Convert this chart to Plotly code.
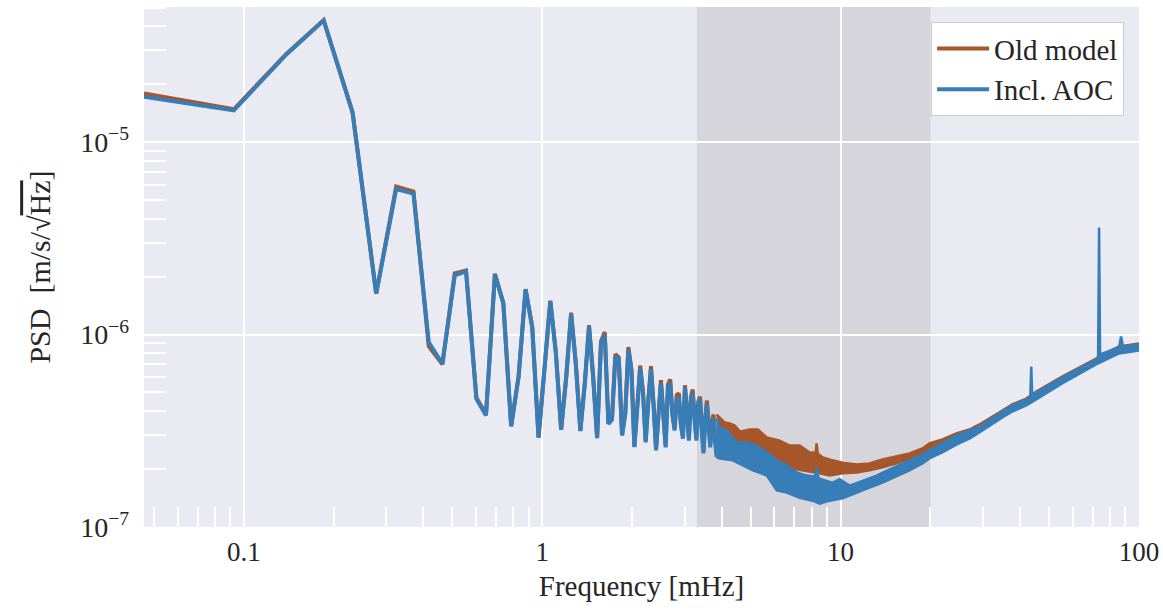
import math
import plotly.graph_objects as go

# ---------------- data ----------------
# resolved low-frequency bins [mHz]
freq_bins = [0.0463, 0.0926, 0.1389, 0.1852, 0.2315, 0.2778, 0.3241, 0.3704, 0.4167, 0.4630,
             0.5093, 0.5556, 0.6019, 0.6481, 0.6944, 0.7407, 0.7870, 0.8333, 0.8796, 0.9259,
             0.9722, 1.0185, 1.0648, 1.1111, 1.1574, 1.2037, 1.2500, 1.2963, 1.3426, 1.3889,
             1.4352, 1.4815, 1.5278, 1.5741, 1.6204, 1.6667, 1.7130, 1.7593, 1.8056, 1.8519,
             1.8981, 1.9444, 1.9907, 2.0370, 2.0833, 2.1296, 2.1759, 2.2222, 2.2685, 2.3148,
             2.3611, 2.4074, 2.4537, 2.5000, 2.5463, 2.5926, 2.6389, 2.6852, 2.7315, 2.7778,
             2.8241, 2.8704, 2.9167, 2.9630, 3.0093, 3.0556, 3.1019, 3.1481, 3.1944, 3.2407,
             3.2870, 3.3333, 3.3796, 3.4259, 3.4722, 3.5185, 3.5648, 3.6111, 3.6574, 3.7037,
             3.7500, 3.7963, 3.8426]

old_low = [1.79e-5, 1.48e-5, 2.87e-5, 4.30e-5, 1.43e-5, 1.63e-6, 5.87e-6, 5.53e-6, 8.7e-7, 7.0e-7,
           2.08e-6, 2.15e-6, 4.7e-7, 3.85e-7, 2.07e-6, 1.46e-6, 3.35e-7, 6.05e-7, 1.72e-6, 1.10e-6,
           2.93e-7, 6.5e-7, 1.50e-6, 8.1e-7, 3.22e-7, 6.0e-7, 1.30e-6, 7.1e-7, 3.17e-7, 5.6e-7,
           1.12e-6, 6.1e-7, 2.91e-7, 9.2e-7, 1.03e-6, 3.46e-7, 3.65e-7, 7.9e-7, 7.6e-7, 3.0e-7,
           3.9e-7, 8.6e-7, 6.6e-7, 2.62e-7, 4.6e-7, 6.9e-7, 5.1e-7, 2.8e-7, 4.6e-7, 6.85e-7,
           4.4e-7, 2.55e-7, 3.9e-7, 5.8e-7, 3.9e-7, 2.65e-7, 5.5e-7, 5.85e-7, 3.9e-7, 3.25e-7,
           4.85e-7, 4.94e-7, 3.45e-7, 2.95e-7, 5.45e-7, 3.7e-7, 2.9e-7, 4.7e-7, 5.18e-7, 3.7e-7,
           2.9e-7, 4.45e-7, 4.76e-7, 3.3e-7, 2.5e-7, 3.7e-7, 4.54e-7, 3.5e-7, 2.7e-7, 3.5e-7,
           3.84e-7, 2.9e-7, 2.4e-7]

aoc_low = [1.72e-5, 1.46e-5, 2.85e-5, 4.28e-5, 1.42e-5, 1.63e-6, 5.70e-6, 5.40e-6, 9.1e-7, 7.05e-7,
           2.03e-6, 2.13e-6, 4.63e-7, 3.80e-7, 2.05e-6, 1.45e-6, 3.33e-7, 6.00e-7, 1.71e-6, 1.09e-6,
           2.91e-7, 6.5e-7, 1.49e-6, 8.0e-7, 3.20e-7, 6.0e-7, 1.28e-6, 7.0e-7, 3.15e-7, 5.5e-7,
           1.10e-6, 6.0e-7, 2.89e-7, 9.0e-7, 1.0e-6, 3.43e-7, 3.61e-7, 7.68e-7, 7.48e-7, 2.99e-7,
           3.87e-7, 8.33e-7, 6.50e-7, 2.60e-7, 4.5e-7, 6.66e-7, 5.0e-7, 2.75e-7, 4.5e-7, 6.58e-7,
           4.3e-7, 2.50e-7, 3.8e-7, 5.57e-7, 3.8e-7, 2.59e-7, 5.31e-7, 5.63e-7, 3.8e-7, 3.17e-7,
           4.65e-7, 4.65e-7, 3.37e-7, 2.88e-7, 5.31e-7, 3.58e-7, 2.81e-7, 4.54e-7, 4.99e-7, 3.58e-7,
           2.81e-7, 4.28e-7, 4.65e-7, 3.17e-7, 2.41e-7, 3.58e-7, 4.39e-7, 3.37e-7, 2.59e-7, 3.37e-7,
           3.67e-7, 2.8e-7, 2.30e-7]

# noisy high-frequency part: upper / lower envelope of the dense spectrum
old_up_f = [3.8426, 4.09, 4.25, 4.42, 4.60, 4.96, 5.28, 5.66, 6.25, 6.75, 7.29, 7.88, 8.25, 8.31, 8.38,
            8.71, 9.40, 10.15, 11.31, 12.50, 13.82, 15.39, 17.02, 18.81, 19.85, 21.93, 24.43, 27.01,
            29.17, 34.83, 37.61, 41.90, 45.25, 55.26, 71.81, 75.21, 85.74, 100.0]
old_up_v = [3.84e-7, 3.49e-7, 3.45e-7, 3.37e-7, 3.13e-7, 3.21e-7, 3.21e-7, 2.92e-7, 2.81e-7, 2.65e-7,
            2.65e-7, 2.44e-7, 2.44e-7, 2.72e-7, 2.41e-7, 2.30e-7, 2.22e-7, 2.16e-7, 2.11e-7, 2.14e-7,
            2.24e-7, 2.32e-7, 2.41e-7, 2.56e-7, 2.72e-7, 2.85e-7, 3.06e-7, 3.21e-7, 3.41e-7, 4.03e-7,
            4.33e-7, 4.65e-7, 5.06e-7, 6.05e-7, 7.50e-7, 7.87e-7, 8.66e-7, 8.98e-7]
old_lo_f = [3.8426, 4.60, 5.36, 6.25, 7.29, 8.51, 9.19, 10.15, 11.31, 12.50, 13.82, 15.39, 17.02,
            18.81, 19.85, 21.93, 24.43, 27.01, 29.17, 34.83, 41.90, 55.26, 71.81, 85.74, 100.0]
old_lo_v = [2.35e-7, 2.35e-7, 2.16e-7, 2.06e-7, 1.97e-7, 1.90e-7, 1.85e-7, 1.90e-7, 1.92e-7, 1.97e-7,
            2.04e-7, 2.14e-7, 2.27e-7, 2.41e-7, 2.50e-7, 2.65e-7, 2.88e-7, 3.06e-7, 3.17e-7, 3.80e-7,
            4.38e-7, 5.70e-7, 7.07e-7, 8.16e-7, 8.36e-7]

aoc_up_f = [3.8426, 3.94, 4.16, 4.49, 4.85, 5.24, 5.66, 6.11, 6.60, 7.13, 7.70, 8.19, 8.31, 8.44, 9.40,
            9.92, 10.72, 11.85, 13.20, 14.59, 16.12, 17.96, 19.85, 21.93, 24.43, 27.01, 29.17, 34.83,
            37.61, 41.90, 43.21, 43.54, 43.87, 45.25, 55.26, 71.81, 72.93, 73.49, 74.06, 85.74, 87.07,
            88.43, 100.0]
aoc_up_v = [3.66e-7, 3.29e-7, 3.17e-7, 2.75e-7, 2.75e-7, 2.65e-7, 2.44e-7, 2.22e-7, 2.09e-7, 1.92e-7,
            1.85e-7, 1.83e-7, 2.04e-7, 1.79e-7, 1.70e-7, 1.77e-7, 1.64e-7, 1.74e-7, 1.85e-7, 1.99e-7,
            2.14e-7, 2.30e-7, 2.50e-7, 2.72e-7, 2.99e-7, 3.17e-7, 3.33e-7, 3.98e-7, 4.28e-7, 4.60e-7,
            4.65e-7, 6.82e-7, 4.76e-7, 5.00e-7, 5.98e-7, 7.41e-7, 7.50e-7, 3.60e-6, 7.87e-7, 8.56e-7,
            9.76e-7, 8.66e-7, 8.87e-7]
aoc_lo_f = [3.8426, 3.94, 4.35, 4.70, 5.08, 5.66, 6.11, 6.60, 7.29, 8.06, 8.51, 9.19, 10.15, 11.31,
            12.50, 13.82, 15.39, 17.02, 18.81, 19.85, 21.93, 24.43, 27.01, 29.17, 34.83, 37.61, 41.90,
            45.25, 55.26, 71.81, 85.74, 100.0]
aoc_lo_v = [2.30e-7, 2.27e-7, 2.22e-7, 2.09e-7, 1.97e-7, 1.85e-7, 1.55e-7, 1.51e-7, 1.42e-7, 1.37e-7,
            1.32e-7, 1.37e-7, 1.41e-7, 1.51e-7, 1.60e-7, 1.70e-7, 1.83e-7, 1.97e-7, 2.14e-7, 2.27e-7,
            2.44e-7, 2.68e-7, 2.88e-7, 3.10e-7, 3.71e-7, 3.98e-7, 4.28e-7, 4.60e-7, 5.57e-7, 6.99e-7,
            7.97e-7, 8.26e-7]

band_range = [3.3, 20.0]  # shaded frequency band [mHz]
x_ticks = [0.1, 1, 10, 100]
x_tick_text = ["0.1", "1", "10", "100"]
y_ticks = [1e-7, 1e-6, 1e-5]
y_tick_text = ["10<sup>−7</sup>", "10<sup>−6</sup>", "10<sup>−5</sup>"]

C_OLD = "#a65628"
C_AOC = "#377eb8"
FONT = "Liberation Serif, Times New Roman, serif"
TXT = "#262626"

fig = go.Figure()


def add_series(name, color, f_low, v_low, uf, uv, lf, lv):
    fig.add_trace(go.Scatter(x=f_low, y=v_low, mode="lines", name=name, legendgroup=name,
                             line=dict(color=color, width=4)))
    fig.add_trace(go.Scatter(x=uf + lf[::-1], y=uv + lv[::-1], mode="lines", fill="toself",
                             fillcolor=color, line=dict(color=color, width=2.5),
                             legendgroup=name, showlegend=False, hoverinfo="skip"))


add_series("Old model", C_OLD, freq_bins, old_low, old_up_f, old_up_v, old_lo_f, old_lo_v)
add_series("Incl. AOC", C_AOC, freq_bins, aoc_low, aoc_up_f, aoc_up_v, aoc_lo_f, aoc_lo_v)

fig.add_shape(type="rect", xref="x", yref="paper", x0=band_range[0], x1=band_range[1], y0=0, y1=1,
              fillcolor="rgba(128,128,128,0.2)", line=dict(width=0), layer="between")

minor_vals = [m * 10.0 ** e for e in range(-8, 3) for m in range(2, 10)]

fig.update_xaxes(type="log", range=[math.log10(freq_bins[0]), 2], automargin=False,
                 tickvals=x_ticks, ticktext=x_tick_text, ticks="", ticklabelstandoff=6,
                 showgrid=True, gridcolor="white", gridwidth=2, zeroline=False, showline=False,
                 minor=dict(tickvals=minor_vals, ticks="inside", ticklen=20, tickwidth=2,
                            tickcolor="white", showgrid=False),
                 tickfont=dict(family=FONT, size=27, color=TXT),
                 title=dict(text="Frequency [mHz]", font=dict(family=FONT, size=29, color=TXT), standoff=9))
fig.update_yaxes(type="log", range=[-7, math.log10(5.03e-5)], automargin=False,
                 tickvals=y_ticks, ticktext=y_tick_text, ticks="", ticklabelstandoff=14,
                 showgrid=True, gridcolor="white", gridwidth=2, zeroline=False, showline=False,
                 minor=dict(tickvals=minor_vals, ticks="inside", ticklen=22, tickwidth=2,
                            tickcolor="white", showgrid=False),
                 tickfont=dict(family=FONT, size=28, color=TXT),
                 title=dict(text="PSD  [m/s/√<span style='text-decoration:overline'>Hz</span>]",
                            font=dict(family=FONT, size=30, color=TXT), standoff=20))

fig.update_layout(
    width=1163, height=610,
    margin=dict(l=144, r=24, t=7, b=83, autoexpand=False),
    paper_bgcolor="white", plot_bgcolor="#EAEAF2",
    font=dict(family=FONT, color=TXT),
    legend=dict(x=0.985, y=0.971, xanchor="right", yanchor="top",
                bgcolor="white", bordercolor="#cccccc", borderwidth=1,
                itemwidth=52, font=dict(family=FONT, size=29, color=TXT), tracegroupgap=0),
    showlegend=True,
)

fig.write_html("out.html", config={"displayModeBar": False},
               post_script="document.body.style.margin='0';document.body.style.overflow='hidden';")
